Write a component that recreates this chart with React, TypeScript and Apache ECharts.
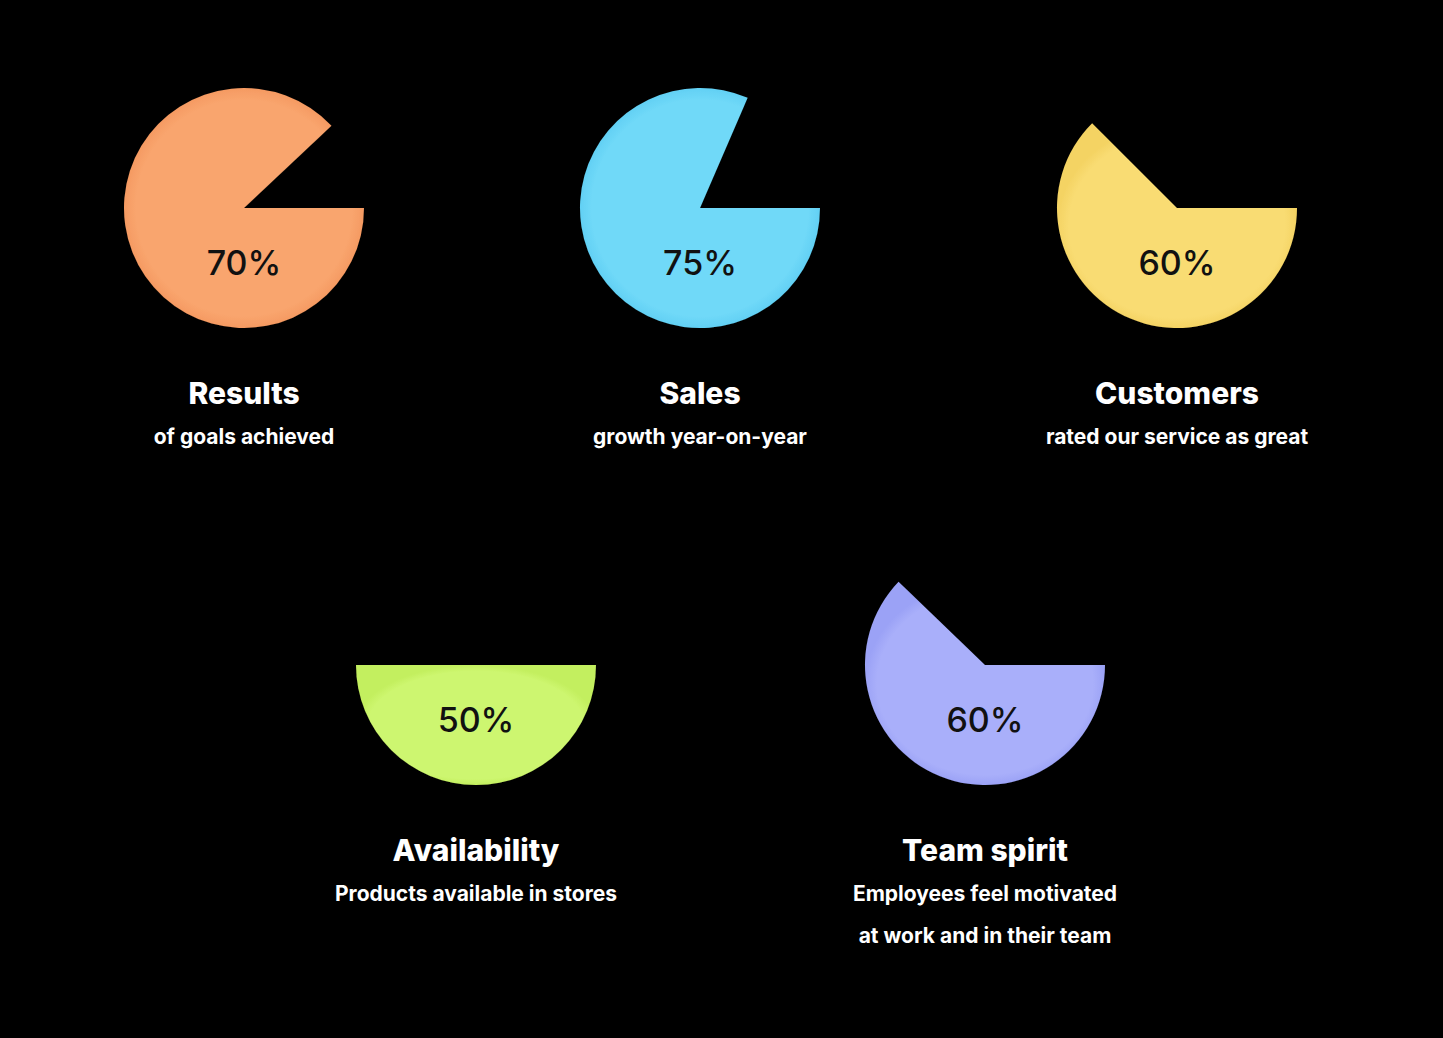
import React, { useEffect, useRef } from "react";
import * as echarts from "echarts";

// Percentage labels shown on each pie
const percentLabels = ["70%", "75%", "60%", "50%", "60%"];
// Filled share of each disc as drawn in the picture (percent of full circle)
const filledShare = [88, 81.5, 62.5, 50, 62.2];
const titles = ["Results", "Sales", "Customers", "Availability", "Team spirit"];
const subtitles = [
  ["of goals achieved"],
  ["growth year-on-year"],
  ["rated our service as great"],
  ["Products available in stores"],
  ["Employees feel motivated", "at work and in their team"],
];
const colors = ["#F9A56E", "#70D9F8", "#F9DC73", "#CDF66F", "#A9AFFA"];
const edgeColors = ["#F59A62", "#62D0F4", "#F4D363", "#C3EF5F", "#9BA2F6"];

// Layout (pixels)
const centers: [number, number][] = [
  [244, 208],
  [700, 208],
  [1177, 208],
  [476, 665],
  [985, 665],
];
const radius = 120;

export default function App() {
  const ref = useRef<HTMLDivElement>(null);
  useEffect(() => {
    document.body.style.margin = "0";
    document.body.style.background = "#000";
    if (!ref.current) return;
    const chart = echarts.init(ref.current, undefined, { renderer: "svg" });

    const series = filledShare.map((v, i) => ({
      type: "pie",
      center: centers[i],
      radius: [0, radius],
      startAngle: 0,
      clockwise: true,
      silent: true,
      z: 1,
      label: { show: false },
      labelLine: { show: false },
      emphasis: { disabled: true },
      data: [
        {
          value: v,
          name: titles[i],
          itemStyle: {
            color: {
              type: "radial",
              x: 0.5,
              y: 0.5,
              r: 0.5,
              colorStops: [
                { offset: 0, color: colors[i] },
                { offset: 0.9, color: colors[i] },
                { offset: 1, color: edgeColors[i] },
              ],
            },
            shadowBlur: 14,
            shadowOffsetY: 6,
            shadowColor: "rgba(0,0,0,0.35)",
          },
        },
        {
          value: 100 - v,
          name: "rest",
          itemStyle: { color: "rgba(0,0,0,0)" },
        },
      ],
    }));

    const graphics: any[] = [];
    centers.forEach(([cx, cy], i) => {
      graphics.push({
        type: "text",
        x: cx,
        y: cy + 54,
        z: 100,
        silent: true,
        style: {
          text: percentLabels[i],
          fill: "#111111",
          font: "500 34px Inter",
          textAlign: "center",
          textVerticalAlign: "middle",
        },
      });
      const ty = cy + 185;
      graphics.push({
        type: "text",
        x: cx,
        y: ty,
        z: 100,
        silent: true,
        style: {
          text: titles[i],
          fill: "#ffffff",
          font: "800 30px Inter",
          textAlign: "center",
          textVerticalAlign: "middle",
        },
      });
      subtitles[i].forEach((line, j) => {
        graphics.push({
          type: "text",
          x: cx,
          y: ty + 43 + j * 42,
          z: 100,
          silent: true,
          style: {
            text: line,
            fill: "#ffffff",
            font: "700 21px Inter",
            textAlign: "center",
            textVerticalAlign: "middle",
          },
        });
      });
    });

    chart.setOption({
      animation: false,
      backgroundColor: "#000000",
      series,
      graphic: { elements: graphics },
    });
    return () => chart.dispose();
  }, []);
  return (
    <div
      ref={ref}
      style={{ position: "fixed", left: 0, top: 0, width: 1443, height: 1038 }}
    />
  );
}
